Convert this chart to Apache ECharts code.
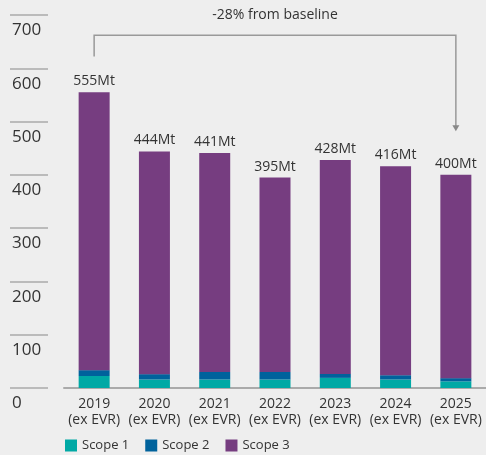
<!DOCTYPE html>
<html><head><meta charset="utf-8">
<script src="https://cdn.jsdelivr.net/npm/echarts@6/dist/echarts.min.js"></script>
<style>html,body{margin:0;padding:0;background:#eeeeee;}#c{width:486px;height:455px;}</style>
</head><body><div id="c"></div>
<script>
const categories = ['2019\n(ex EVR)','2020\n(ex EVR)','2021\n(ex EVR)','2022\n(ex EVR)','2023\n(ex EVR)','2024\n(ex EVR)','2025\n(ex EVR)'];
const scope1 = [22.5, 16, 16, 16, 19, 16, 12.5];
const scope2 = [11, 10, 14, 14, 7.5, 8, 6];
const totals = [555, 444, 441, 395, 428, 416, 400];
const scope3 = totals.map((t,i)=>+(t - scope1[i] - scope2[i]).toFixed(1));
const totalLabels = ['555Mt','444Mt','441Mt','395Mt','428Mt','416Mt','400Mt'];
const annotationText = '-28% from baseline';
const FONT = '"Open Sans", sans-serif';

const chart = echarts.init(document.getElementById('c'));
const option = {
  backgroundColor: '#eeeeee',
  animation: false,
  textStyle: {fontFamily: FONT},
  grid: {left: 64, right: 0, top: 15, bottom: 67},
  legend: {
    left: 60, bottom: -2, itemWidth: 12, itemHeight: 12, itemGap: 16,
    icon: 'rect',
    textStyle: {fontSize: 13, color: '#333', fontFamily: FONT},
    data: ['Scope 1','Scope 2','Scope 3']
  },
  xAxis: {
    type: 'category', data: categories,
    axisLine: {lineStyle: {color: '#aaaaaa', width: 2}},
    axisTick: {show: false},
    axisLabel: {interval: 0, fontSize: 14, color: '#333', lineHeight: 16, margin: 8, fontFamily: FONT}
  },
  yAxis: {
    type: 'value', min: 0, max: 700, interval: 100,
    offset: 16,
    axisLine: {show: false},
    axisTick: {show: true, length: 38, lineStyle: {color: '#aaaaaa', width: 1.5}},
    splitLine: {show: false},
    axisLabel: {fontSize: 17, color: '#333', align: 'left', verticalAlign: 'top', margin: 36, padding: [7,0,0,0], fontFamily: FONT}
  },
  series: [
    {name: 'Scope 1', type: 'bar', stack: 't', data: scope1, barWidth: 31, itemStyle: {color: '#00a9a5'}},
    {name: 'Scope 2', type: 'bar', stack: 't', data: scope2, barWidth: 31, itemStyle: {color: '#00629c'}},
    {name: 'Scope 3', type: 'bar', stack: 't', data: scope3, barWidth: 31, itemStyle: {color: '#763d80'},
     label: {show: true, position: 'top', distance: 4, fontSize: 14, color: '#333', fontFamily: FONT,
       formatter: p => totalLabels[p.dataIndex]}}
  ]
};
chart.setOption(option);

const first = categories[0], last = categories[categories.length-1];
const pLeftStart = chart.convertToPixel({gridIndex: 0}, [first, 622]);
const pTop = chart.convertToPixel({gridIndex: 0}, [first, 662]);
const pRightTop = chart.convertToPixel({gridIndex: 0}, [last, 662]);
const pRightEnd = chart.convertToPixel({gridIndex: 0}, [last, 482]);
chart.setOption({
  graphic: [
    {type: 'polyline', shape: {points: [pLeftStart, pTop, pRightTop, [pRightEnd[0], pRightEnd[1]-5]]},
     style: {stroke: '#999', lineWidth: 1.5, fill: null}},
    {type: 'polygon', shape: {points: [[pRightEnd[0]-3.5, pRightEnd[1]-6], [pRightEnd[0]+3.5, pRightEnd[1]-6], [pRightEnd[0], pRightEnd[1]]]},
     style: {fill: '#888'}},
    {type: 'text', x: (pTop[0]+pRightTop[0])/2, y: 15,
     style: {text: annotationText, fontSize: 14, fill: '#333', fontFamily: FONT, align: 'center', verticalAlign: 'middle'}}
  ]
});
</script></body></html>
